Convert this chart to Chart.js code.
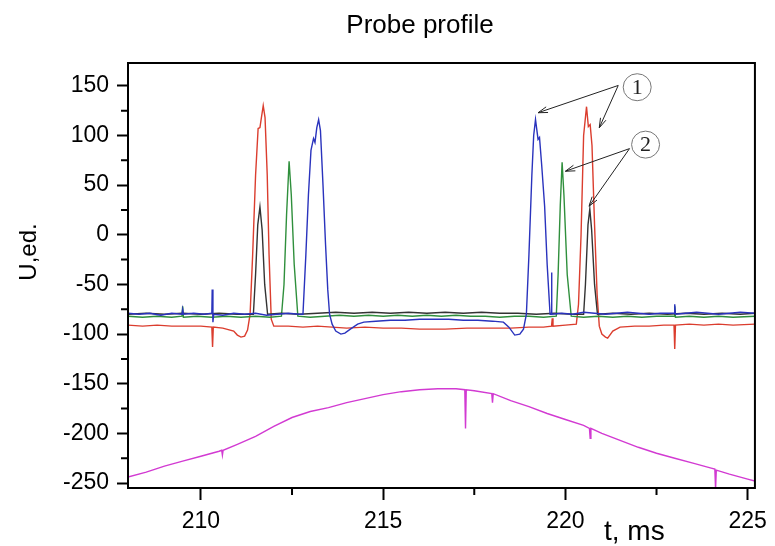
<!DOCTYPE html>
<html lang="en">
<head>
  <meta charset="UTF-8">
  <title>Probe profile</title>
  <script src="https://cdn.jsdelivr.net/npm/chart.js@4.4.1/dist/chart.umd.min.js"></script>
  <style>
    html, body { margin: 0; padding: 0; background: #fff; }
    #wrap { width: 775px; height: 546px; }
  </style>
</head>
<body>
  <div id="wrap"><canvas id="probe" width="775" height="546"></canvas></div>
  <script>
    // time axis (ms) and signal (U, ed.) per probe trace
    const blueT = [208.0, 208.3, 208.6, 208.9, 209.2, 209.48, 209.5, 209.52, 209.8, 210.1, 210.3, 210.31, 210.33, 210.35, 210.6, 210.9, 211.2, 211.5, 211.8, 212.1, 212.4, 212.7, 212.8, 212.88, 212.95, 213.02, 213.09, 213.13, 213.18, 213.23, 213.28, 213.35, 213.42, 213.48, 213.53, 213.6, 213.7, 213.84, 213.95, 214.1, 214.3, 214.47, 214.8, 215.2, 215.6, 216.0, 216.4, 216.8, 217.2, 217.6, 218.0, 218.3, 218.45, 218.61, 218.75, 218.85, 218.93, 219.0, 219.08, 219.13, 219.18, 219.25, 219.29, 219.35, 219.43, 219.5, 219.58, 219.61, 219.62, 219.63, 219.9, 220.2, 220.5, 220.8, 221.1, 221.4, 221.7, 222.0, 222.3, 222.6, 222.98, 223.0, 223.02, 223.3, 223.6, 223.9, 224.2, 224.5, 224.8, 225.2];
    const blueU = [-79, -80, -79, -81, -79, -80, -75, -80, -79, -80, -79, -55, -88, -80, -81, -79, -80, -79, -81, -80, -79, -80, -80, -20, 40, 85, 97, 93, 108, 116, 105, 50, -10, -55, -80, -90, -97, -100, -99, -95, -90, -88, -87, -86, -86, -85, -85, -85, -86, -86, -87, -88, -93, -101, -100, -95, -80, -20, 60, 100, 116, 96, 98, 70, 29, -30, -80, -80, -38, -80, -79, -80, -78, -79, -80, -79, -78, -79, -80, -79, -79, -70, -80, -79, -78, -79, -80, -79, -78, -79];

    const greenT = [208.0, 208.4, 208.8, 209.2, 209.48, 209.5, 209.52, 209.9, 210.3, 210.7, 211.1, 211.5, 211.9, 212.21, 212.28, 212.35, 212.42, 212.48, 212.56, 212.66, 213.0, 213.4, 213.8, 214.2, 214.6, 215.0, 215.4, 215.8, 216.2, 216.6, 217.0, 217.4, 217.8, 218.2, 218.6, 219.0, 219.4, 219.75, 219.8, 219.86, 219.91, 219.96, 220.05, 220.16, 220.5, 220.9, 221.3, 221.7, 222.1, 222.5, 222.98, 223.0, 223.02, 223.4, 223.8, 224.2, 224.6, 225.2];
    const greenU = [-82, -83, -82, -83, -82, -72, -83, -82, -83, -82, -83, -82, -83, -82, -50, 20, 74, 40, -30, -82, -83, -82, -81, -82, -81, -82, -81, -82, -81, -82, -81, -82, -82, -83, -82, -82, -83, -82, -40, 30, 73, 40, -40, -82, -83, -82, -83, -82, -83, -82, -82, -72, -83, -82, -83, -82, -83, -82];

    const blackT = [208.0, 208.5, 209.0, 209.5, 210.0, 210.5, 211.0, 211.44, 211.5, 211.56, 211.62, 211.68, 211.75, 211.83, 212.2, 212.7, 213.2, 213.7, 214.2, 214.7, 215.2, 215.7, 216.2, 216.7, 217.2, 217.7, 218.2, 218.7, 219.2, 219.7, 220.2, 220.5, 220.55, 220.62, 220.67, 220.72, 220.8, 220.88, 221.3, 221.8, 222.3, 222.8, 223.3, 223.8, 224.3, 224.8, 225.2];
    const blackU = [-80, -79, -80, -79, -80, -79, -80, -80, -40, 10, 28, 5, -50, -80, -79, -80, -79, -78, -79, -78, -79, -78, -79, -78, -79, -78, -79, -79, -80, -79, -80, -80, -50, 10, 26, 5, -50, -80, -79, -80, -79, -80, -79, -80, -79, -80, -79];

    const redT = [208.0, 208.4, 208.8, 209.2, 209.6, 210.0, 210.3, 210.32, 210.34, 210.6, 210.9, 211.0, 211.1, 211.2, 211.28, 211.35, 211.42, 211.5, 211.57, 211.62, 211.66, 211.71, 211.76, 211.82, 211.87, 211.93, 212.0, 212.4, 212.8, 213.2, 213.6, 214.0, 214.5, 215.0, 215.5, 216.0, 216.7, 217.3, 217.9, 218.5, 219.0, 219.4, 219.62, 219.64, 219.66, 220.0, 220.3, 220.36, 220.43, 220.5, 220.58, 220.63, 220.68, 220.73, 220.8, 220.87, 220.93, 221.0, 221.1, 221.16, 221.3, 221.5, 221.9, 222.3, 222.7, 222.98, 223.0, 223.02, 223.4, 223.8, 224.2, 224.6, 225.2];
    const redU = [-91, -92, -91, -92, -92, -92, -93, -113, -93, -94, -97, -101, -103, -102, -96, -80, -20, 60, 107, 108, 118, 130, 118, 60, -20, -85, -92, -92, -93, -92, -93, -94, -93, -94, -94, -95, -95, -94, -94, -94, -93, -93, -92, -84, -92, -91, -90, -70, 0, 100, 129, 109, 111, 90, 10, -60, -92, -100, -103, -104, -97, -93, -92, -92, -91, -91, -115, -91, -90, -91, -90, -91, -90];

    const magentaT = [208.0, 208.5, 209.0, 209.5, 210.0, 210.5, 210.57, 210.59, 210.61, 211.0, 211.5, 212.0, 212.5, 213.0, 213.5, 214.0, 214.5, 215.0, 215.5, 216.0, 216.5, 217.0, 217.24, 217.26, 217.28, 217.5, 217.98, 218.0, 218.02, 218.5, 219.0, 219.5, 220.0, 220.5, 220.66, 220.68, 220.7, 221.0, 221.5, 222.0, 222.5, 223.0, 223.5, 224.0, 224.1, 224.12, 224.14, 224.5, 225.0, 225.2];
    const magentaU = [-244, -239, -233, -228, -223, -218, -217, -222, -217, -211, -203, -193, -184, -178, -174, -169, -165, -161, -158, -156, -155, -155, -156, -195, -156, -157, -160, -169, -160, -167, -173, -180, -186, -192, -195, -205, -195, -200, -207, -214, -220, -225, -230, -235, -236, -256, -237, -241, -246, -248];

    const xTicks = [210, 215, 220, 225];
    const xMinor = [212.5, 217.5, 222.5];
    const yTicks = [-250, -200, -150, -100, -50, 0, 50, 100, 150];
    const yMinor = [-225, -175, -125, -75, -25, 25, 75, 125];

    // callouts: label, circle centre, arrow start, arrow tips (t, U)
    const callouts = [
      { label: '1', at: [221.97, 148.6], from: [221.45, 150.4], tips: [[219.25, 122.9], [220.93, 107.8]] },
      { label: '2', at: [222.2, 90.8], from: [221.76, 86.8], tips: [[220.0, 64], [220.65, 28.8]] }
    ];

    const toPoints = (ts, us) => ts.map((t, i) => ({ x: t, y: us[i] }));

    const FONT = '"Liberation Sans", Arial, sans-serif';

    const decor = {
      id: 'decor',
      afterDraw(chart) {
        const { ctx, chartArea: a, scales: { x, y } } = chart;
        ctx.save();
        ctx.strokeStyle = '#000';
        ctx.lineWidth = 2;
        ctx.strokeRect(a.left, a.top, a.right - a.left, a.bottom - a.top);
        ctx.beginPath();
        xMinor.forEach(v => {
          const px = x.getPixelForValue(v);
          ctx.moveTo(px, a.bottom); ctx.lineTo(px, a.bottom + 7);
        });
        yMinor.forEach(v => {
          const py = y.getPixelForValue(v);
          ctx.moveTo(a.left - 7, py); ctx.lineTo(a.left, py);
        });
        ctx.stroke();

        // texts
        ctx.fillStyle = '#000';
        ctx.font = '26px ' + FONT;
        ctx.textAlign = 'center';
        ctx.textBaseline = 'middle';
        ctx.fillText('Probe profile', 420, 26);
        ctx.font = '28px ' + FONT;
        ctx.textAlign = 'left';
        ctx.textBaseline = 'alphabetic';
        ctx.fillText('t, ms', 604, 540);
        ctx.save();
        ctx.translate(29, 252);
        ctx.rotate(-Math.PI / 2);
        ctx.font = '24px ' + FONT;
        ctx.textAlign = 'center';
        ctx.textBaseline = 'middle';
        ctx.fillText('U,ed.', 0, 0);
        ctx.restore();

        // callouts
        callouts.forEach(c => {
          const cx = x.getPixelForValue(c.at[0]), cy = y.getPixelForValue(c.at[1]);
          const sx = x.getPixelForValue(c.from[0]), sy = y.getPixelForValue(c.from[1]);
          ctx.strokeStyle = '#777';
          ctx.lineWidth = 1;
          ctx.beginPath();
          ctx.ellipse(cx, cy, 14, 13.5, 0, 0, Math.PI * 2);
          ctx.stroke();
          ctx.fillStyle = '#222';
          ctx.font = '22px "Liberation Serif", "Times New Roman", serif';
          ctx.textAlign = 'center';
          ctx.textBaseline = 'middle';
          ctx.fillText(c.label, cx, cy + 1);
          ctx.strokeStyle = '#222';
          c.tips.forEach(tp => {
            const tx = x.getPixelForValue(tp[0]), ty = y.getPixelForValue(tp[1]);
            const ang = Math.atan2(ty - sy, tx - sx);
            ctx.beginPath();
            ctx.moveTo(sx, sy); ctx.lineTo(tx, ty);
            ctx.moveTo(tx - 10 * Math.cos(ang - 0.3), ty - 10 * Math.sin(ang - 0.3));
            ctx.lineTo(tx, ty);
            ctx.lineTo(tx - 10 * Math.cos(ang + 0.3), ty - 10 * Math.sin(ang + 0.3));
            ctx.stroke();
          });
        });
        ctx.restore();
      }
    };

    const line = (pts, color) => ({
      data: pts,
      borderColor: color,
      borderWidth: 1.4,
      pointRadius: 0,
      tension: 0,
      fill: false
    });

    new Chart(document.getElementById('probe'), {
      type: 'line',
      data: {
        datasets: [
          line(toPoints(blueT, blueU), '#2a33bd'),
          line(toPoints(blackT, blackU), '#333333'),
          line(toPoints(greenT, greenU), '#2f8f3c'),
          line(toPoints(redT, redU), '#db3d2e'),
          line(toPoints(magentaT, magentaU), '#d23ad2')
        ]
      },
      options: {
        responsive: false,
        animation: false,
        layout: { padding: { top: 63, right: 15, left: 0, bottom: 0 } },
        plugins: { legend: { display: false }, tooltip: { enabled: false }, title: { display: false } },
        scales: {
          x: {
            type: 'linear',
            min: 208,
            max: 225.2,
            afterBuildTicks: s => { s.ticks = xTicks.map(v => ({ value: v })); },
            afterFit: s => { s.height = 58; },
            grid: { drawOnChartArea: false, tickLength: 12, tickColor: '#000', tickWidth: 2 },
            border: { display: true, color: '#000', width: 2 },
            ticks: { color: '#000', padding: 8, maxRotation: 0, font: { family: FONT, size: 23 } }
          },
          y: {
            min: -255,
            max: 173,
            afterBuildTicks: s => { s.ticks = yTicks.map(v => ({ value: v })); },
            afterFit: s => { s.width = 128; },
            grid: { drawOnChartArea: false, tickLength: 11, tickColor: '#000', tickWidth: 2 },
            border: { display: true, color: '#000', width: 2 },
            ticks: { color: '#000', padding: 8, font: { family: FONT, size: 23 } }
          }
        }
      },
      plugins: [decor]
    });
  </script>
</body>
</html>
